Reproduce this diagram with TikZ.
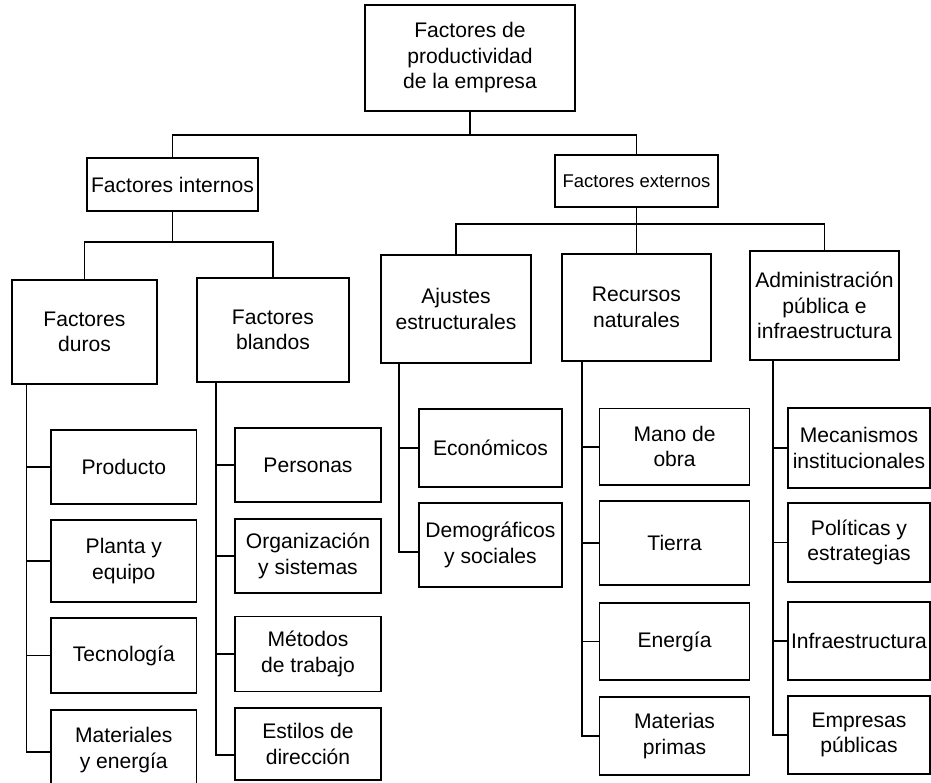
\documentclass[tikz,border=0pt]{standalone}
\usepackage{fontspec}
\setmainfont{Liberation Sans}
\usetikzlibrary{positioning}

\tikzset{
  caja/.style={draw, line width=1pt, inner sep=0pt, align=center,
    font=\fontsize{12}{14.5}\selectfont},
  linea/.style={line width=1pt}
}

\begin{document}
\begin{tikzpicture}[x=0.02cm, y=-0.02cm]
\useasboundingbox (0,0) rectangle (931,783);
\clip (0,0) rectangle (931,783);
\fill[white] (0,0) rectangle (931,783);

\node[caja, minimum width=4.2cm, minimum height=2.12cm] (raiz) at (470,58)
  {Factores de\\productividad\\de la empresa};
\node[caja, minimum width=3.42cm, minimum height=1.06cm] (internos) at (172.5,184.5) {Factores internos};
\node[caja, minimum width=3.26cm, minimum height=1.04cm, font=\fontsize{10.5}{12.5}\selectfont] (externos) at (636.5,181) {Factores externos};

\node[caja, minimum width=2.9cm, minimum height=2.08cm] (duros) at (84.5,332) {Factores\\duros};
\node[caja, minimum width=3.04cm, minimum height=2.08cm] (blandos) at (273,330) {Factores\\blandos};
\node[caja, minimum width=3.0cm, minimum height=2.16cm] (ajustes) at (456,309) {Ajustes\\estructurales};
\node[caja, minimum width=2.98cm, minimum height=2.14cm] (recursos) at (636.5,307.5) {Recursos\\naturales};
\node[caja, minimum width=2.98cm, minimum height=2.18cm] (admin) at (824.5,305.5) {Administración\\pública e\\infraestructura};

\node[caja, minimum width=2.91cm, minimum height=1.48cm] (d1) at (123.8,467) {Producto};
\node[caja, minimum width=2.91cm, minimum height=1.64cm] (d2) at (123.8,561) {Planta y\\equipo};
\node[caja, minimum width=2.91cm, minimum height=1.5cm] (d3) at (123.8,655.5) {Tecnología};
\node[caja, minimum width=2.91cm, minimum height=1.6cm] (d4) at (123.8,750) {Materiales\\y energía};

\node[caja, minimum width=2.92cm, minimum height=1.47cm] (b1) at (308,465) {Personas};
\node[caja, minimum width=2.92cm, minimum height=1.49cm] (b2) at (308,556) {Organización\\y sistemas};
\node[caja, minimum width=2.92cm, minimum height=1.5cm] (b3) at (308,654) {Métodos\\de trabajo};
\node[caja, minimum width=2.92cm, minimum height=1.44cm] (b4) at (308,744) {Estilos de\\dirección};

\node[caja, minimum width=2.86cm, minimum height=1.55cm] (a1) at (490.5,448) {Económicos};
\node[caja, minimum width=2.86cm, minimum height=1.69cm] (a2) at (490.5,545) {Demográficos\\y sociales};

\node[caja, minimum width=3.0cm, minimum height=1.53cm] (r1) at (674.6,446.7) {Mano de\\obra};
\node[caja, minimum width=3.0cm, minimum height=1.68cm] (r2) at (674.6,543) {Tierra};
\node[caja, minimum width=3.0cm, minimum height=1.54cm] (r3) at (674.6,641.5) {Energía};
\node[caja, minimum width=3.0cm, minimum height=1.56cm] (r4) at (674.6,736) {Materias\\primas};

\node[caja, minimum width=2.84cm, minimum height=1.6cm] (p1) at (859,448) {Mecanismos\\institucionales};
\node[caja, minimum width=2.84cm, minimum height=1.58cm] (p2) at (859,542.5) {Políticas y\\estrategias};
\node[caja, minimum width=2.84cm, minimum height=1.56cm] (p3) at (859,641) {Infraestructura};
\node[caja, minimum width=2.84cm, minimum height=1.56cm] (p4) at (859,735) {Empresas\\públicas};

\coordinate (bus0) at (0,135);
\coordinate (bus1) at (0,242);
\coordinate (bus2) at (0,224);
\coordinate (td) at (26.5,0);
\coordinate (tb) at (216,0);
\coordinate (ta) at (399,0);
\coordinate (tr) at (582,0);
\coordinate (tp) at (773,0);

\draw[linea] (raiz.south) -- (raiz.south |- bus0);
\draw[linea] (internos.north) |- (raiz.south |- bus0);
\draw[linea] (externos.north) |- (raiz.south |- bus0);

\draw[linea] (internos.south) -- (internos.south |- bus1);
\draw[linea] (duros.north) |- (internos.south |- bus1);
\draw[linea] (blandos.north) |- (internos.south |- bus1);

\draw[linea] (externos.south) -- (externos.south |- bus2);
\draw[linea] (ajustes.north) |- (externos.south |- bus2);
\draw[linea] (recursos.north) |- (externos.south |- bus2);
\draw[linea] (admin.north) |- (externos.south |- bus2);

\draw[linea] (duros.south -| td) |- ([yshift=-0.04cm]d4.west);
\draw[linea] (blandos.south -| tb) |- ([yshift=-0.22cm]b4.west);
\draw[linea] (ajustes.south -| ta) |- ([yshift=-0.14cm]a2.west);
\draw[linea] (recursos.south -| tr) |- (r4.west);
\draw[linea] (admin.south -| tp) |- (p4.west);

\foreach \n in {d1,d2,d3} \draw[linea] (td |- \n.west) -- (\n.west);
\foreach \n in {b1,b2,b3} \draw[linea] (tb |- \n.west) -- (\n.west);
\draw[linea] (ta |- a1.west) -- (a1.west);
\foreach \n in {r1,r2,r3} \draw[linea] (tr |- \n.west) -- (\n.west);
\foreach \n in {p1,p2,p3} \draw[linea] (tp |- \n.west) -- (\n.west);
\end{tikzpicture}
\end{document}
